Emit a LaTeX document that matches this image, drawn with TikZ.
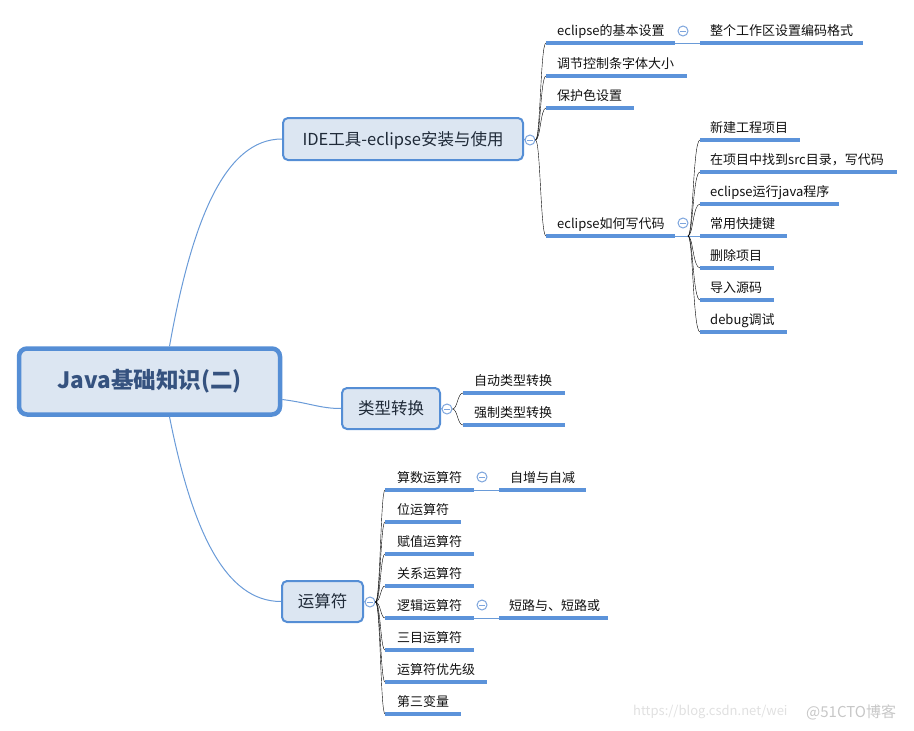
\documentclass[tikz,border=0pt]{standalone}
\usepackage{fontspec}
\newfontfamily\cjk{Noto Sans CJK SC}
\usetikzlibrary{calc}
\definecolor{boxfill}{HTML}{DCE6F2}
\definecolor{boxline}{HTML}{558ED5}
\definecolor{connc}{HTML}{6A9BD8}
\definecolor{ulc}{HTML}{5C93DA}
\definecolor{collc}{HTML}{7DA5DD}
\definecolor{roottext}{HTML}{35527F}
\definecolor{boxtext}{HTML}{1F2A38}
\definecolor{leaftext}{HTML}{111111}
\tikzset{
  rootbox/.style={draw=boxline, fill=boxfill, line width=4.5pt, rounded corners=8pt,
    minimum width=261pt, minimum height=66pt, inner sep=0pt,
    font=\cjk\fontsize{22.5}{26}\selectfont\bfseries, text=roottext},
  topicbox/.style={draw=boxline, fill=boxfill, line width=2pt, rounded corners=5pt,
    inner sep=0pt, text height=14.5pt, text depth=2pt,
    font=\cjk\fontsize{16.5}{19}\selectfont, text=boxtext},
  ulline/.style={draw=ulc, line width=3.2pt},
  leaf/.style={anchor=south west, inner xsep=11pt, inner ysep=5.9pt, align=left,
    text height=11.4pt, text depth=1.6pt,
    font=\cjk\fontsize{13}{15}\selectfont, text=leaftext},
  conn/.style={draw=connc, line width=1pt},
  br/.style={conn, to path={.. controls ($(\tikztostart)+(5,0)$) and ($(\tikztostart |- \tikztotarget)+(5,0)$) .. (\tikztotarget)}},
  coll/.style={circle, draw=collc, fill=white, line width=1pt, minimum size=10pt, inner sep=0pt,
    path picture={\draw[collc, line width=1pt] ([xshift=-2.8pt]path picture bounding box.center) -- ([xshift=2.8pt]path picture bounding box.center);}},
  wm/.style={anchor=west, inner sep=0pt, font=\cjk\fontsize{13}{15}\selectfont}
}
\begin{document}
\begin{tikzpicture}[x=1pt, y=-1pt]
\useasboundingbox (0,0) rectangle (914,731);

% main topics
\node[rootbox] (root) at (149.5,381.5) {Java基础知识(二)};
\node[topicbox, minimum width=240pt, minimum height=42pt] (ide) at (403,139) {IDE工具-eclipse安装与使用};
\node[topicbox, minimum width=98pt, minimum height=41pt] (tc) at (391,408.5) {类型转换};
\node[topicbox, minimum width=81pt, minimum height=41pt] (ys) at (322.5,601.5) {运算符};

\draw[conn] ($(root.north)+(20,0)$) .. controls (192,220) and (225,139) .. (ide.west);
\draw[conn] ($(root.east)+(0,18)$) .. controls (310,403) and (320,408.5) .. (tc.west);
\draw[conn] ($(root.south)+(20,0)$) .. controls (192,530) and (225,601.5) .. (ys.west);

% collapse markers of topics
\node[coll] (ideC) at (530,140) {};
\node[coll] (tcC) at (447,409) {};
\node[coll] (ysC) at (370,602) {};
\draw[conn] (ide.east) -- (ideC.west);
\draw[conn] (tc.east) -- (tcC.west);
\draw[conn] (ys.east) -- (ysC.west);

% IDE branch
\node[leaf, text width=107pt] (b1) at (546,43) {eclipse的基本设置};
\node[leaf, text width=119pt] (b2) at (546,76) {调节控制条字体大小};
\node[leaf, text width=66pt] (b3) at (546,108) {保护色设置};
\node[leaf, text width=107pt] (b4) at (546,236) {eclipse如何写代码};
\foreach \n in {b1,b2,b3,b4} \draw (ideC.east) to[br] (\n.south west);

\node[coll] (b1C) at (683,31) {};
\node[leaf, text width=143pt, inner xsep=10pt] (d1) at (700,43) {整个工作区设置编码格式};
\draw[conn] (b1.south east) -- (d1.south west);

\node[coll] (b4C) at (683,223) {};
\node[leaf, text width=80pt, inner xsep=10pt] (e1) at (700,140) {新建工程项目};
\node[leaf, text width=177pt, inner xsep=10pt] (e2) at (700,172) {在项目中找到src目录，写代码};
\node[leaf, text width=119pt, inner xsep=10pt] (e3) at (700,204) {eclipse运行java程序};
\node[leaf, text width=67pt, inner xsep=10pt] (e4) at (700,236) {常用快捷键};
\node[leaf, text width=54pt, inner xsep=10pt] (e5) at (700,268) {删除项目};
\node[leaf, text width=54pt, inner xsep=10pt] (e6) at (700,300) {导入源码};
\node[leaf, text width=67pt, inner xsep=10pt] (e7) at (700,332) {debug调试};
\coordinate (h4) at (688,236);
\draw[conn] (b4.south east) -- (e4.south west);
\foreach \n in {e1,e2,e3,e5,e6,e7} \draw (h4) to[br] (\n.south west);

% type conversion branch
\node[leaf, text width=80pt] (f1) at (463,393) {自动类型转换};
\node[leaf, text width=80pt] (f2) at (463,425) {强制类型转换};
\foreach \n in {f1,f2} \draw (tcC.east) to[br] (\n.south west);

% operators branch
\node[leaf, text width=65pt, inner xsep=12pt] (g1) at (385,490) {算数运算符};
\node[leaf, text width=52pt, inner xsep=12pt] (g2) at (385,522) {位运算符};
\node[leaf, text width=65pt, inner xsep=12pt] (g3) at (385,554) {赋值运算符};
\node[leaf, text width=65pt, inner xsep=12pt] (g4) at (385,586) {关系运算符};
\node[leaf, text width=65pt, inner xsep=12pt] (g5) at (385,618) {逻辑运算符};
\node[leaf, text width=65pt, inner xsep=12pt] (g6) at (385,650) {三目运算符};
\node[leaf, text width=78pt, inner xsep=12pt] (g7) at (385,682) {运算符优先级};
\node[leaf, text width=52pt, inner xsep=12pt] (g8) at (385,714) {第三变量};
\foreach \n in {g1,g2,g3,g4,g5,g6,g7,g8} \draw (ysC.east) to[br] (\n.south west);

\node[coll] (g1C) at (482,477) {};
\node[leaf, text width=65pt] (h1) at (499,490) {自增与自减};
\draw[conn] (g1.south east) -- (h1.south west);
\node[coll] (g5C) at (482,605) {};
\node[leaf, text width=89pt, inner xsep=10pt] (h2) at (499,618) {短路与、短路或};
\draw[conn] (g5.south east) -- (h2.south west);

% underlines of all leaf topics
\foreach \n in {b1,b2,b3,b4,d1,e1,e2,e3,e4,e5,e6,e7,f1,f2,g1,g2,g3,g4,g5,g6,g7,g8,h1,h2}
  \draw[ulline] (\n.south west) -- (\n.south east);

% watermark
\node[wm, text=black!12] (wm1) at (633,712) {https://blog.csdn.net/wei};
\node[wm, text=black!22, font=\cjk\fontsize{15}{17}\selectfont] (wm2) at (806,712) {@51CTO博客};
\end{tikzpicture}
\end{document}
